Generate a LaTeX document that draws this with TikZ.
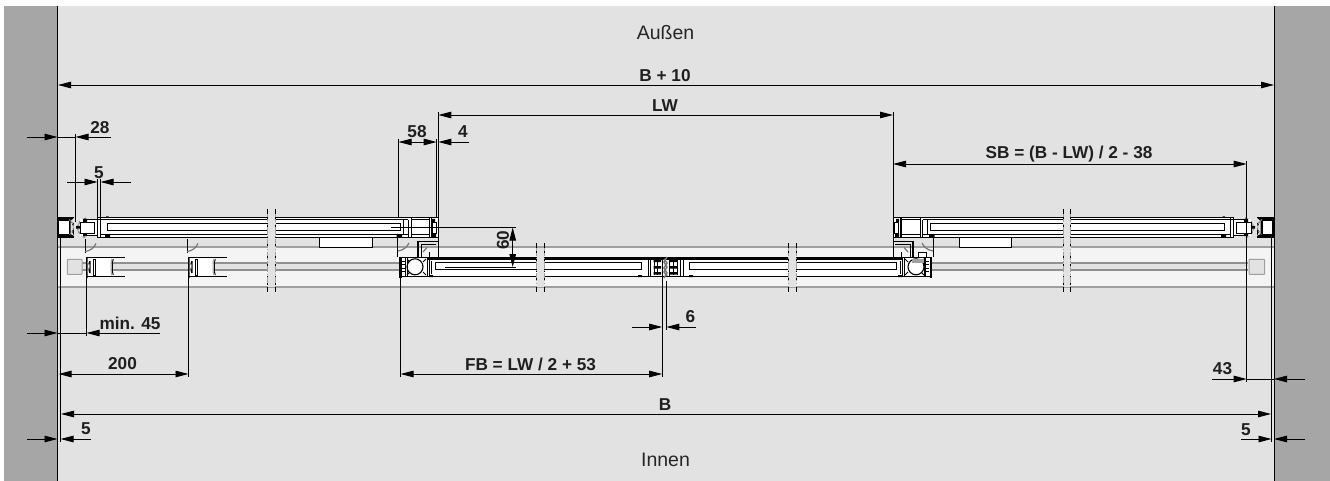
\documentclass[tikz,border=0pt]{standalone}
\usepackage{fontspec}
\setmainfont{Liberation Sans}
\usetikzlibrary{arrows.meta}
\definecolor{wallc}{HTML}{A6A6A6}
\definecolor{roomc}{HTML}{E2E2E2}
\definecolor{bandc}{HTML}{F4F4F4}
\definecolor{edgec}{HTML}{A0A0A0}
\definecolor{sealc}{HTML}{777777}
\tikzset{
  ln/.style={line width=0.9pt,black},
  hv/.style={line width=1.3pt,black},
  fat/.style={line width=3pt,black},
  seal/.style={line width=1.1pt,sealc},
  dim/.style={line width=0.9pt,black},
  tipb/.style={dim,{Triangle[length=13pt,width=6.5pt]}-{Triangle[length=13pt,width=6.5pt]}},
  tipe/.style={dim,-{Triangle[length=13pt,width=6.5pt]}},
  ext/.style={line width=0.9pt,black},
  dl/.style={font=\fontsize{17.2}{19}\selectfont\bfseries,inner sep=0pt,text=black!88},
  room/.style={font=\fontsize{19.5}{21}\selectfont,inner sep=0pt,text=black!85},
}
\newcommand{\upperleaf}{%
  % wall profile
  \fill[black] (57.5,217) rectangle (74,237.8);
  \fill[white] (59,221) rectangle (68.5,233.8);
  \fill[roomc] (70.5,221) -- (74,218) -- (74,222.5) -- (71.5,224.5) -- (74,226) -- (74,229) -- (71.5,231) -- (74,236) -- (70.5,233.8) -- cycle;
  % roller profile
  \draw[seal,dash pattern=on 2.5pt off 1pt] (86,218) arc (-100:-260:10);
  \draw[seal,dash pattern=on 2pt off 1.2pt] (69,219.5) arc (-60:60:9);
  \fill[white] (80,219) rectangle (97,236);
  \draw[ln] (80,222.3) rectangle (94.5,233);
  \draw[ln] (87,219.6) -- (97.5,219.6) (87,235.2) -- (97.5,235.2);
  \fill[black] (76,226) rectangle (80,228.5) (83,233) rectangle (87,236) (83,219) rectangle (87,222);
  % leaf
  \fill[white] (97.5,217.3) rectangle (438,237.5);
  \draw[ln] (97.5,217.3) -- (438,217.3);
  \draw[ln] (97.5,219.5) -- (408.3,219.5) (411,219.5) -- (429.3,219.5);
  \draw[hv,line width=1pt] (107,223.3) rectangle (400.7,230.3);
  \draw[ln] (101,234.3) -- (408.3,234.3) (411,234.3) -- (429.3,234.3);
  \draw[ln] (97.5,237.5) -- (438,237.5);
  \draw[ln] (97.5,217.3) -- (97.5,237.5) (100.5,217.3) -- (100.5,237.5);
  \draw[ln] (403.5,219.5) -- (403.5,234.3) (408.3,219.5) -- (408.3,237.5) (411,217.3) -- (411,237.5);
  \draw[ln] (429.3,217.3) -- (429.3,237.5) (431,217.3) -- (431,237.5) (438,217.3) -- (438,237.5);
  \draw[ln] (432.5,222.5) rectangle (436.5,233.5);
  \fill[black] (432,219) rectangle (435,222) (432,233) rectangle (436,237) (105,235) rectangle (110,237.5) (396.5,234.5) rectangle (402,237.5) (106,216.5) rectangle (108.5,218);
  % carriage housing
  \fill[white] (319.3,238) rectangle (372,247);
  \draw[ln] (319.3,238) -- (319.3,247) -- (372,247) -- (372,238);
  \fill[black] (329,246.5) rectangle (363,248.2);
  % bracket
  \draw[ln] (397.5,238) -- (397.5,257) (438,237.5) -- (438,257.5);
  \draw[seal,line width=1.2pt] (398,251) .. controls (404,250) and (407,247) .. (409,243);
  \draw[hv] (438,241.2) -- (418,241.2) -- (418,256.5);
  \draw[ln] (436,244) -- (421,244) -- (421,256.5);
  \draw[hv] (429.5,256.5) -- (429.5,251.5);
  \draw[seal,line width=1.2pt] (423,252) -- (427,247.5);
  % lower leaf
  \fill[white] (399.5,257) rectangle (662.5,277);
  \draw[ln] (399.5,257.5) -- (428,257.5) (399.5,276.5) -- (669,276.5);
  \draw[fat] (428,258.7) -- (669,258.7);
  \fill[black] (399,257) rectangle (401.5,278);
  \draw[ln] (405.5,257.5) -- (405.5,276.5) (402,261) -- (405,261) (402,264.5) -- (405,264.5) (402,268) -- (405,268) (402,271.5) -- (405,271.5);
  \draw[ln] (407,257.5) -- (407,276.5);
  \draw[line width=1.1pt] (415,266.8) circle (8);
  \draw[ln] (407,259) -- (410,262) (407,275) -- (410,272) (426,259) -- (423,262) (426,275) -- (423,272);
  \draw[ln] (427,257.5) -- (427,276.5);
  \draw[ln,rounded corners=1pt] (429,259) -- (429,276.5) (431,261) -- (431,274);
  \draw[line width=1pt] (435,262.7) rectangle (641.7,269.6);
  \draw[ln] (648,260) -- (648,276.5);
  \draw[ln] (650.5,260) -- (650.5,276.5) (662,258) -- (662,277);
  % centre profile
  \fill[black] (653.5,260) rectangle (661,262) (653.5,266) rectangle (661,268.5) (653.5,272) rectangle (661,274.5);
  \draw[ln] (654,260) -- (654,275) (657.5,260) -- (657.5,275);
  \fill[black] (638,275) rectangle (642,277) (429,275) rectangle (433,277);
}
\newcommand{\brk}[4]{%
  \fill[roomc] (#1,#3) rectangle (#2,#4);
  \foreach \xx in {#1,#2}{%
    \draw[line width=0.9pt,edgec,dash pattern=on 8pt off 1.5pt on 1.5pt off 1.5pt] (\xx,#3) -- (\xx,#4);
    \draw[line width=0.9pt,black] (\xx,#3-5) -- (\xx,#3) (\xx,#4) -- (\xx,#4+5);
    \draw[line width=0.9pt,black,dash pattern=on 1.5pt off 6pt on 2pt off 10pt] (\xx,#3+3) -- (\xx,#4-1);
  }%
}
\newcommand{\stub}[1]{%
  \begin{scope}[xshift=#1pt]
    \draw[ln] (85,239) -- (85,253);
    \draw[seal,line width=1.2pt] (85,251.5) .. controls (90,251) and (94,248) .. (96,243.5);
    \fill[white] (87,258) rectangle (111,276);
    \draw[hv] (87,257.5) -- (124.5,257.5) (87,276.2) -- (124.5,276.2);
    \fill[black] (86,257) rectangle (87.5,278) (89,261) rectangle (90.5,273);
    \draw[seal] (87.5,262) -- (90,266) -- (87.5,272);
    \draw[ln] (93.5,259) rectangle (95,275);
    \draw[edgec,line width=1pt] (112,259) -- (111,262) -- (111,272) -- (112,275);
    \draw[ln] (113.3,259) -- (112.5,262) -- (112.5,272) -- (113.3,275);
  \end{scope}
}
\begin{document}
\begin{tikzpicture}[x=1pt,y=-1pt]
\useasboundingbox (0,0) rectangle (1330,481);
\fill[white] (0,0) rectangle (1330,481);
\fill[wallc] (4,6) rectangle (1330,481);
\fill[roomc] (57.5,6) rectangle (1274,481);
% band
\fill[bandc] (58,247) rectangle (1273.5,287);
\draw[edgec,line width=1.1pt] (58,247) -- (1273.5,247) (58,287) -- (1273.5,287);
% tracks
\fill[roomc] (82,263.3) rectangle (400,270) (932,263.3) rectangle (1248,270);
\draw[edgec!90!black,line width=2.3pt] (82,263.3) -- (400,263.3) (82,270) -- (400,270) (932,263.3) -- (1248,263.3) (932,270) -- (1248,270);
\draw[edgec,fill=roomc,line width=1pt,rounded corners=0.5pt] (67.3,259.3) rectangle (82,274.3);
\draw[edgec,fill=roomc,line width=1pt,rounded corners=0.5pt] (1249,259.3) rectangle (1264.5,274.3);
% trolleys
\stub{0}
\stub{102}
% leaves
\upperleaf
\begin{scope}[xshift=1331pt,xscale=-1]
  \upperleaf
\end{scope}
\fill[white] (917,252) rectangle (926,257);
\draw[ln] (918,257) -- (918,252.5) -- (926,252.5) -- (926,257);
\fill[edgec] (912,258.5) rectangle (924,263);
% centre seal
\draw[seal,line width=1.4pt] (664,259) -- (667,263) -- (664,268) -- (667,273) -- (664,278);
\draw[seal,line width=1.4pt] (667,257) -- (664,262) -- (667,267) -- (664,272) -- (667,276);
% breaks
\brk{267.5}{275.5}{214}{287}
\brk{1063.3}{1070.9}{214}{287}
\brk{536.7}{544.3}{248}{287}
\brk{788.3}{796.3}{248}{287}
% extension lines
\draw[ext] (57.5,6) -- (57.5,481);
\draw[ext] (1274,6) -- (1274,481);
\draw[ext] (60.5,237) -- (60.5,442);
\draw[ext] (1271.5,237) -- (1271.5,442);
\draw[ext] (75.5,134) -- (75.5,222);
\draw[ext] (97.5,179) -- (97.5,217) (100.5,179) -- (100.5,217);
\draw[ext] (398.5,139) -- (398.5,217) (436.7,139) -- (436.7,217);
\draw[ext] (438.3,112) -- (438.3,217);
\draw[ext] (893,112) -- (893,217);
\draw[ext] (1246.7,161) -- (1246.7,382);
\draw[ext] (86.5,278) -- (86.5,336);
\draw[ext] (188.5,278) -- (188.5,377);
\draw[ext] (400.5,278) -- (400.5,377);
\draw[ext] (662.2,277) -- (662.2,377);
\draw[ext] (666.3,281) -- (666.3,330);
\draw[ext] (391,227.3) -- (516,227.3);
\draw[ext] (445,267.3) -- (516,267.3);
% dimensions
\draw[tipb] (58,85) -- (1274,85);
\draw[tipb] (438.3,115) -- (893,115);
\draw[tipb] (893,164) -- (1246.7,164);
\draw[tipb] (61,414) -- (1271,414);
\draw[tipb] (58.5,374) -- (188.5,374);
\draw[tipb] (400.5,374) -- (662.2,374);
\draw[tipb] (398.5,142) -- (436.7,142);
\draw[tipb] (512.7,227.5) -- (512.7,267);
\draw[tipe] (27,137) -- (57.5,137);
\draw[tipe] (111,137) -- (75.5,137);
\draw[dim] (57.5,137) -- (75.5,137);
\draw[tipe] (67,182) -- (97.5,182);
\draw[tipe] (131,182) -- (100.5,182);
\draw[tipe] (469,142) -- (438.3,142);
\draw[tipe] (27,333) -- (57.5,333);
\draw[tipe] (160,333) -- (86.5,333);
\draw[dim] (57.5,333) -- (86.5,333);
\draw[tipe] (27,439) -- (57.5,439);
\draw[tipe] (91,439) -- (60.5,439);
\draw[tipe] (632,327) -- (662.2,327);
\draw[tipe] (696,327) -- (666.3,327);
\draw[tipe] (1212,379) -- (1246.7,379);
\draw[tipe] (1305,379) -- (1274,379);
\draw[dim] (1246.7,379) -- (1274,379);
\draw[tipe] (1241,439) -- (1271.5,439);
\draw[tipe] (1305,439) -- (1274,439);
% labels
\node[room] (aussen) at (665.5,33) {Außen};
\node[room] (innen) at (665.5,460) {Innen};
\node[dl] (lbw) at (665,76) {B + 10};
\node[dl] (llw) at (665,106) {LW};
\node[dl] (l28) at (100,128) {28};
\node[dl] (l5a) at (99,172.5) {5};
\node[dl] (l58) at (417,132) {58};
\node[dl] (l4) at (463,132) {4};
\node[dl] (lsb) at (1069,154) {SB = (B - LW) / 2 - 38};
\node[dl,rotate=90] (l60) at (503,240) {60};
\node[dl] (l45) at (130,323) {min. 45};
\node[dl] (l200) at (122.5,364) {200};
\node[dl] (lfb) at (530.5,364) {FB = LW / 2 + 53};
\node[dl] (l6) at (690.5,316.5) {6};
\node[dl] (l43) at (1222.5,369) {43};
\node[dl] (lb) at (665,405) {B};
\node[dl] (l5b) at (86,429) {5};
\node[dl] (l5c) at (1246,429.5) {5};
\end{tikzpicture}
\end{document}
